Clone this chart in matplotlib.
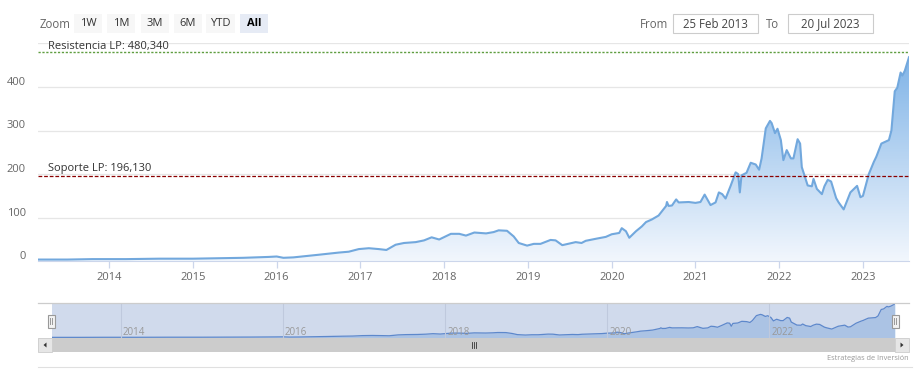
import numpy as np
import matplotlib
matplotlib.use('Agg')
import matplotlib.pyplot as plt
from matplotlib.colors import LinearSegmentedColormap
from matplotlib.patches import Rectangle, Polygon
from matplotlib.transforms import ScaledTranslation

plt.rcParams['font.family'] = ['Open Sans', 'DejaVu Sans']

# price series (decimal years)
years = [2013.15, 2013.5, 2013.8, 2014.2, 2014.6, 2015.0, 2015.3, 2015.6, 2015.9, 2016.0,
         2016.08, 2016.2, 2016.35, 2016.5, 2016.74, 2016.86, 2016.98, 2017.1, 2017.22, 2017.31,
         2017.42, 2017.52, 2017.66, 2017.76, 2017.85, 2017.94, 2018.08, 2018.18, 2018.26, 2018.36,
         2018.5, 2018.59, 2018.65, 2018.75, 2018.83, 2018.89, 2018.99, 2019.07, 2019.15, 2019.27,
         2019.33, 2019.41, 2019.57, 2019.64, 2019.69, 2019.82, 2019.93, 2020.0, 2020.09, 2020.12,
         2020.17, 2020.21, 2020.29, 2020.36, 2020.41, 2020.48, 2020.56, 2020.65, 2020.66, 2020.68,
         2020.72, 2020.77, 2020.8, 2020.92, 2021.0, 2021.06, 2021.11, 2021.18, 2021.24, 2021.28,
         2021.32, 2021.36, 2021.42, 2021.48, 2021.51, 2021.53, 2021.55, 2021.61, 2021.66, 2021.72,
         2021.76, 2021.79, 2021.84, 2021.89, 2021.91, 2021.95, 2021.98, 2022.02, 2022.05, 2022.09,
         2022.14, 2022.17, 2022.22, 2022.25, 2022.27, 2022.34, 2022.39, 2022.41, 2022.45, 2022.51,
         2022.54, 2022.58, 2022.62, 2022.68, 2022.71, 2022.77, 2022.85, 2022.93, 2022.97, 2023.0,
         2023.07, 2023.13, 2023.16, 2023.22, 2023.31, 2023.34, 2023.38, 2023.41, 2023.45, 2023.47,
         2023.5, 2023.55]
prices = [4, 4, 5, 5, 6, 6, 7, 8, 10, 11,
          8, 9, 12, 15, 20, 22, 28, 30, 28, 26,
          38, 42, 44, 48, 55, 50, 63, 63, 59, 66,
          64, 67, 71, 70, 57, 42, 36, 40, 40, 49,
          48, 37, 44, 42, 47, 52, 56, 62, 65, 76,
          69, 54, 69, 80, 90, 96, 105, 127, 136, 127,
          128, 142, 135, 136, 134, 136, 153, 129, 135, 158,
          154, 144, 173, 204, 200, 158, 197, 203, 226, 222,
          210, 236, 305, 322, 317, 294, 304, 278, 232, 255,
          236, 236, 280, 270, 216, 174, 172, 189, 166, 154,
          172, 187, 183, 145, 135, 119, 158, 173, 147, 150,
          200, 228, 240, 270, 278, 300, 390, 398, 433, 426,
          437, 468]

resist = 480.34
support = 196.13
year_ticks = list(range(2014, 2024))
nav_ticks = [2014, 2016, 2018, 2020, 2022]
y_ticks = [0, 100, 200, 300, 400, 500]
zoom_buttons = ['1W', '1M', '3M', '6M', 'YTD', 'All']
date_from = '25 Feb 2013'
date_to = '20 Jul 2023'

W, H = 923, 383
fig = plt.figure(figsize=(W / 100, H / 100), dpi=100)


def px_axes(l, t, r, b):
    return fig.add_axes([l / W, 1 - b / H, (r - l) / W, (b - t) / H])


def fmt(v):
    return f'{v:.3f}'.replace('.', ',')


# ---- main chart
ax = px_axes(38, 43.3, 909, 261.3)
x0, x1 = years[0], years[-1]

cmap = LinearSegmentedColormap.from_list('fillgrad', ['#f2f7fd', '#7fb3e7'])
poly = ax.fill_between(years, prices, 0, color='none', lw=0)
grad = np.linspace(0, 1, 256).reshape(-1, 1)
im = ax.imshow(grad, cmap=cmap, origin='lower', extent=[x0, x1, 0, max(prices)],
               aspect='auto', zorder=1)
im.set_clip_path(poly.get_paths()[0], transform=ax.transData)
ax.plot(years, prices, color='#72a8dd', lw=1.5, zorder=3)

ax.axhline(resist, color='#5f9e40', ls=(0, (1.6, 1.2)), lw=1.0, zorder=4)
ax.axhline(support, color='#8b0000', ls=(0, (3, 1.5)), lw=0.9, zorder=4)
ax.annotate(f'Resistencia LP: {fmt(resist)}', xy=(0, resist), xycoords=('axes fraction', 'data'),
            xytext=(10, 0), textcoords='offset pixels', va='bottom', fontsize=8, color='#333333')
ax.annotate(f'Soporte LP: {fmt(support)}', xy=(0, support), xycoords=('axes fraction', 'data'),
            xytext=(10, 2), textcoords='offset pixels', va='bottom', fontsize=8, color='#333333')

ax.set_xlim(x0, x1)
ax.set_ylim(0, 500)
ax.set_yticks(y_ticks)
ax.set_yticklabels([str(v) if v < 500 else '' for v in y_ticks])
ax.set_xticks(year_ticks)
ax.set_xticklabels([str(y) for y in year_ticks])
ax.grid(axis='y', color='#e6e6e6', lw=0.9)
ax.set_axisbelow(True)
ax.tick_params(axis='y', length=0, pad=8.6, labelsize=8, labelcolor='#666666')
ax.tick_params(axis='x', length=5, width=0.9, color='#ccd6eb', pad=2.5, labelsize=8,
               labelcolor='#666666')
for lab in ax.get_yticklabels():
    lab.set_transform(lab.get_transform() + ScaledTranslation(0, 6 / 100, fig.dpi_scale_trans))
for s in ['left', 'right', 'top']:
    ax.spines[s].set_visible(False)
ax.spines['bottom'].set_color('#ccd6eb')

# ---- navigator
nav = px_axes(52, 303, 895, 338)
nav.fill_between(years, prices, -5, color='#8ab6e8', alpha=0.45, lw=0)
nav.plot(years, prices, color='#5a8ad0', lw=0.9)
nav.set_xlim(x0, x1)
nav.set_ylim(-5, 480)
nav.add_patch(Rectangle((0, 0), 1, 1, transform=nav.transAxes,
                        color=(102 / 255, 133 / 255, 194 / 255, 0.3), lw=0, zorder=5))
for t in nav_ticks:
    nav.axvline(t, color='#bfc9dd', lw=0.8, zorder=6)
    nav.annotate(str(t), xy=(t, 0), xycoords=('data', 'axes fraction'), xytext=(2, 3),
                 textcoords='offset pixels', fontsize=7, color='#999999', zorder=7)
nav.set_xticks([])
nav.set_yticks([])
for s in nav.spines.values():
    s.set_visible(False)

# ---- ui overlay in pixel coordinates
ui = fig.add_axes([0, 0, 1, 1], zorder=10)
ui.set_xlim(0, W)
ui.set_ylim(H, 0)
ui.axis('off')
ui.patch.set_alpha(0)

ui.text(40, 24, 'Zoom', fontsize=8.3, color='#666666', va='center')
bx = [74, 107, 141, 174, 206, 240]
bw = [28, 28, 28, 28, 29, 28]
for lab, x, w in zip(zoom_buttons, bx, bw):
    sel = lab == 'All'
    ui.add_patch(Rectangle((x, 14), w, 19, color='#e6ebf5' if sel else '#f7f7f7', lw=0))
    ui.text(x + w / 2, 24, lab, ha='center', va='center', fontsize=8,
            color='#000000' if sel else '#333333', fontweight='bold' if sel else 'normal')

ui.text(640, 24, 'From', fontsize=8.3, color='#666666', va='center')
ui.add_patch(Rectangle((673, 14), 85, 19, facecolor='white', edgecolor='#cccccc', lw=0.8))
ui.text(715.5, 24, date_from, ha='center', va='center', fontsize=8.3, color='#444444')
ui.text(766, 24, 'To', fontsize=8.3, color='#666666', va='center')
ui.add_patch(Rectangle((788, 14), 85, 19, facecolor='white', edgecolor='#cccccc', lw=0.8))
ui.text(830.5, 24, date_to, ha='center', va='center', fontsize=8.3, color='#444444')

# navigator outline + handles
ui.plot([38, 909], [303, 303], color='#cccccc', lw=0.9)
for hx in [51, 895]:
    ui.add_patch(Rectangle((hx - 3.5, 314.5), 7, 13, facecolor='#f2f2f2', edgecolor='#999999', lw=0.8))
    ui.plot([hx - 1, hx - 1], [318, 324], color='#999999', lw=0.7)
    ui.plot([hx + 1, hx + 1], [318, 324], color='#999999', lw=0.7)

# scrollbar
ui.add_patch(Rectangle((38, 338), 871, 14, color='#f2f2f2', lw=0))
ui.add_patch(Rectangle((52, 338), 843, 14, color='#cccccc', lw=0))
for bx0, d in [(38, -1), (895, 1)]:
    ui.add_patch(Rectangle((bx0, 338), 14, 14, facecolor='#e6e6e6', edgecolor='#cccccc', lw=0.6))
    cx = bx0 + 7
    ui.add_patch(Polygon([[cx + 1.5 * d, 345], [cx - 1.5 * d, 342.5], [cx - 1.5 * d, 347.5]],
                         closed=True, color='#333333', lw=0))
for gx in [471.5, 473.5, 475.5]:
    ui.plot([gx, gx], [342, 348], color='#333333', lw=0.6)

ui.text(909, 358, 'Estrategias de Inversión', ha='right', va='center', fontsize=5.3, color='#999999')
ui.plot([38, 912], [366.5, 366.5], color='#e0e0e0', lw=0.8)

fig.savefig('out.png', dpi=100)
